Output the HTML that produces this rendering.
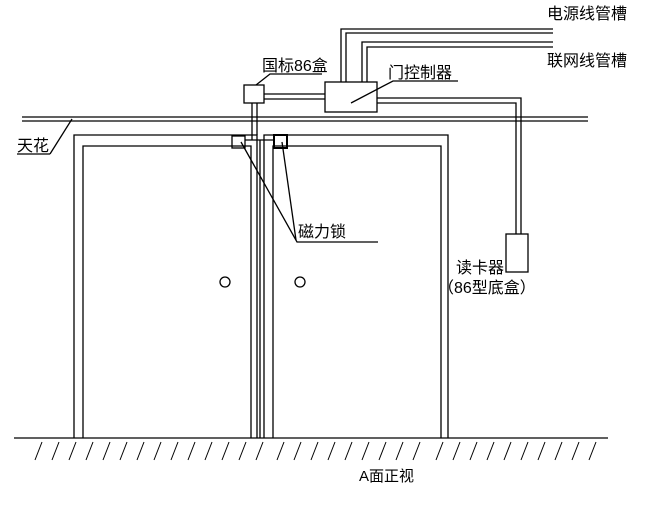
<!DOCTYPE html>
<html><head><meta charset="utf-8"><style>
html,body{margin:0;padding:0;background:#fff;}
svg text{font-family:"Liberation Sans","Noto Sans CJK SC",sans-serif;fill:#000;}
</style></head><body>
<svg width="646" height="505" viewBox="0 0 646 505" xmlns="http://www.w3.org/2000/svg">
<g stroke="#000" stroke-width="1.3" fill="none">
<line x1="22" y1="117" x2="588" y2="117"/>
<line x1="22" y1="121" x2="588" y2="121"/>
<polyline points="74,438 74,135 257,135 257,438"/>
<polyline points="83,438 83,146 251,146 251,438"/>
<polyline points="264,438 264,135 448,135 448,438"/>
<polyline points="273,438 273,146 441,146 441,438"/>
<line x1="260" y1="140" x2="260" y2="438"/>
<rect x="244" y="85" width="20" height="18"/>
<line x1="252" y1="103" x2="252" y2="140"/>
<line x1="257" y1="103" x2="257" y2="135"/>
<line x1="245" y1="140" x2="273" y2="140"/>
<rect x="232" y="136" width="13" height="12"/>
<rect x="274" y="135" width="13" height="13" stroke-width="2"/>
<rect x="325" y="82" width="52" height="30"/>
<line x1="264" y1="94" x2="325" y2="94"/>
<line x1="264" y1="99" x2="325" y2="99"/>
<polyline points="341,82 341,29 553,29"/>
<polyline points="346,82 346,33 553,33"/>
<polyline points="362,82 362,42 553,42"/>
<polyline points="367,82 367,47 553,47"/>
<polyline points="377,98 521,98 521,234"/>
<polyline points="377,103 516,103 516,234"/>
<rect x="506" y="234" width="22" height="38"/>
<polyline points="256,85 270,74 322,74"/>
<polyline points="351,103 393,81 458,81"/>
<polyline points="50,154 17,154"/>
<line x1="50" y1="154" x2="72" y2="119"/>
<polyline points="241,142 297,242 378,242"/>
<line x1="282" y1="142" x2="296" y2="240"/>
<circle cx="225" cy="282" r="5"/>
<circle cx="300" cy="282" r="5"/>
<line x1="14" y1="438" x2="608" y2="438"/>
</g>
<g stroke="#000" stroke-width="1">
<line x1="42" y1="442" x2="35" y2="460"/><line x1="59" y1="442" x2="52" y2="460"/><line x1="76" y1="442" x2="69" y2="460"/><line x1="93" y1="442" x2="86" y2="460"/><line x1="110" y1="442" x2="103" y2="460"/><line x1="127" y1="442" x2="120" y2="460"/><line x1="144" y1="442" x2="137" y2="460"/><line x1="161" y1="442" x2="154" y2="460"/><line x1="178" y1="442" x2="171" y2="460"/><line x1="195" y1="442" x2="188" y2="460"/><line x1="212" y1="442" x2="205" y2="460"/><line x1="229" y1="442" x2="222" y2="460"/><line x1="246" y1="442" x2="239" y2="460"/><line x1="263" y1="442" x2="256" y2="460"/><line x1="284" y1="442" x2="277" y2="460"/><line x1="301" y1="442" x2="294" y2="460"/><line x1="318" y1="442" x2="311" y2="460"/><line x1="335" y1="442" x2="328" y2="460"/><line x1="352" y1="442" x2="345" y2="460"/><line x1="369" y1="442" x2="362" y2="460"/><line x1="386" y1="442" x2="379" y2="460"/><line x1="403" y1="442" x2="396" y2="460"/><line x1="420" y1="442" x2="413" y2="460"/><line x1="443" y1="442" x2="436" y2="460"/><line x1="460" y1="442" x2="453" y2="460"/><line x1="477" y1="442" x2="470" y2="460"/><line x1="494" y1="442" x2="487" y2="460"/><line x1="511" y1="442" x2="504" y2="460"/><line x1="528" y1="442" x2="521" y2="460"/><line x1="545" y1="442" x2="538" y2="460"/><line x1="562" y1="442" x2="555" y2="460"/><line x1="579" y1="442" x2="572" y2="460"/><line x1="596" y1="442" x2="589" y2="460"/>
</g>
<g font-size="16">
<text x="547" y="19">电源线管槽</text>
<text x="547" y="66">联网线管槽</text>
<text x="262" y="71">国标86盒</text>
<text x="388" y="78">门控制器</text>
<text x="17" y="151">天花</text>
<text x="298" y="237">磁力锁</text>
<text x="456" y="273">读卡器</text>
<text x="438" y="293">（86型底盒）</text>
<text x="359" y="481" font-size="15">A面正视</text>
</g>
</svg>
</body></html>
